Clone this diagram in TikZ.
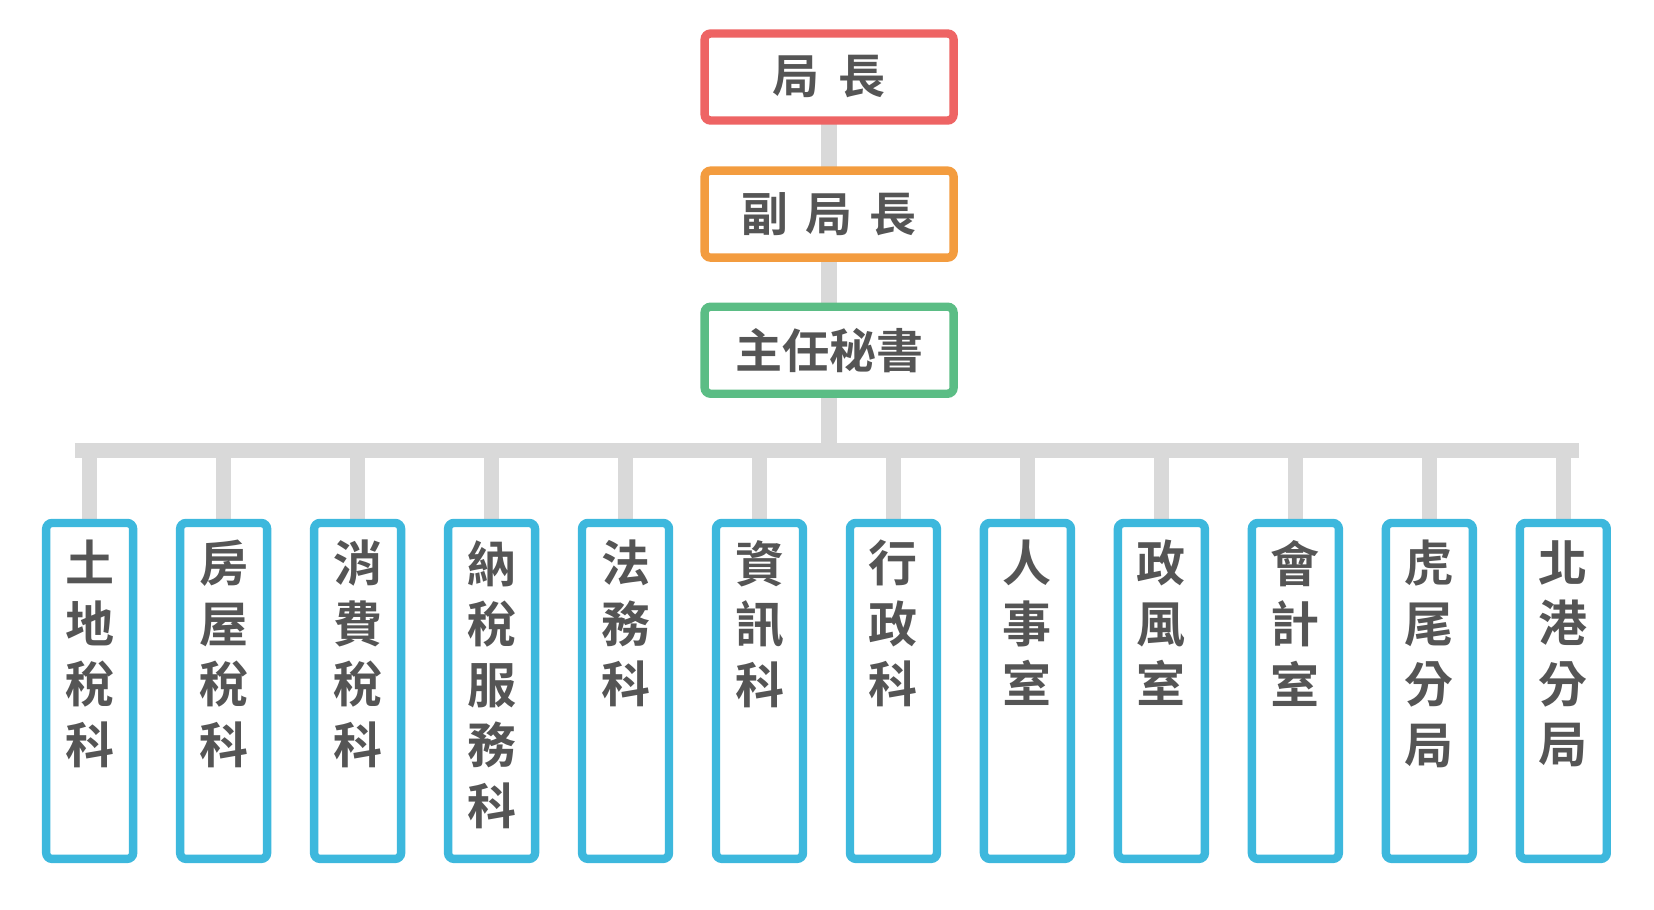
\documentclass[tikz,border=0pt]{standalone}
\usepackage{fontspec}
\newfontfamily\cjk{Noto Sans CJK TC Bold}
\definecolor{cred}{HTML}{EE6464}
\definecolor{corange}{HTML}{F39C3F}
\definecolor{cgreen}{HTML}{5BBD85}
\definecolor{cblue}{HTML}{3DB8DD}
\definecolor{ctext}{HTML}{555555}
\definecolor{cline}{HTML}{D9D9D9}
\begin{document}
\begin{tikzpicture}[x=1.055pt,y=-1.055pt,
 top/.style={draw=#1,line width=8.4pt,fill=white,rounded corners=6pt,minimum width=249pt,minimum height=87pt,inner sep=0pt,text=ctext,font=\cjk\fontsize{47}{47}\selectfont},
 unit/.style={draw=cblue,line width=8.4pt,fill=white,rounded corners=6pt,minimum width=87pt,minimum height=336pt,inner sep=0pt},
 lbl/.style={anchor=north,align=center,text=ctext,inner sep=0pt,font=\cjk\fontsize{49}{60.5}\selectfont},
 conn/.style={draw=cline,line width=15.5pt}]
\useasboundingbox (0,0) rectangle (1568,862);
\coordinate (busL) at (78,427);
\coordinate (busR) at (1490,427);
\coordinate (busM) at (786,427);
\draw[conn] (786,73) -- (busM);
\draw[conn] ([xshift=-7.5pt]busL) -- ([xshift=7.5pt]busR);
\foreach \i in {0,...,11}{
  \coordinate (c\i) at ({85+127*\i},427);
  \draw[conn] (c\i) -- ({85+127*\i},655);
}
\node[top=cred] (a) at (786,73) {局\hspace{19pt}長};
\node[top=corange] (b) at (786,203) {副\hspace{17pt}局\hspace{17pt}長};
\node[top=cgreen] (c) at (786,332) {主任秘書};
\foreach \i/\t in {0/土\\地\\稅\\科,1/房\\屋\\稅\\科,2/消\\費\\稅\\科,3/納\\稅\\服\\務\\科,4/法\\務\\科,5/資\\訊\\科,6/行\\政\\科,7/人\\事\\室,8/政\\風\\室,9/會\\計\\室,10/虎\\尾\\分\\局,11/北\\港\\分\\局}{
  \node[unit] (u\i) at ({85+127*\i},655) {};
  \node[lbl] (t\i) at ({85+127*\i},512) {\t};
}
\end{tikzpicture}
\end{document}
